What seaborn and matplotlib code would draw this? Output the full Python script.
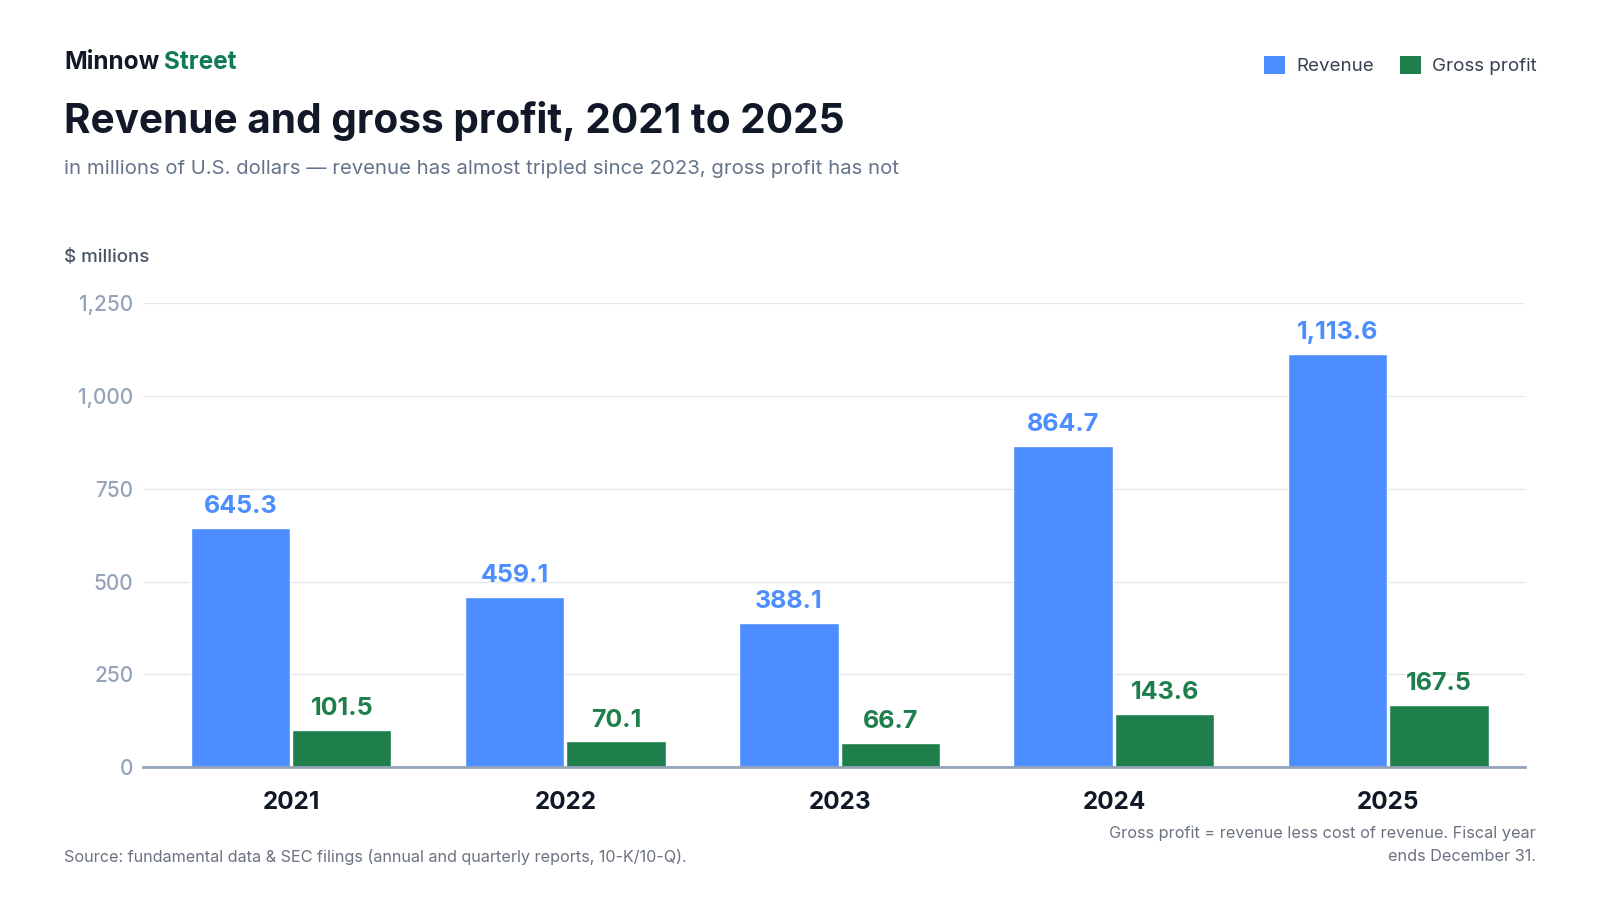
import numpy as np
import pandas as pd
import matplotlib.pyplot as plt
import seaborn as sns
from matplotlib.patches import Patch

# ================= DATA =================
YEARS = ["2021", "2022", "2023", "2024", "2025"]
REVENUE = [645.3, 459.1, 388.1, 864.7, 1113.6]
GROSS_PROFIT = [101.5, 70.1, 66.7, 143.6, 167.5]
SERIES = ["Revenue", "Gross profit"]
Y_TICKS = [0, 250, 500, 750, 1000, 1250]

BLUE = "#4c8dff"
GREEN = "#1e7f4d"
DARK = "#111827"
MUTED = "#64748b"
TICK_GRAY = "#94a3b8"

sns.set_theme(style="white")
plt.rcParams['font.family'] = ['Inter', 'DejaVu Sans']

df = pd.DataFrame({
    "year": YEARS * 2,
    "value": REVENUE + GROSS_PROFIT,
    "series": [SERIES[0]] * len(YEARS) + [SERIES[1]] * len(YEARS),
})

fig = plt.figure(figsize=(16, 9), dpi=100)
ax = fig.add_axes([0.0893, 0.1474, 0.9534 - 0.0893, 0.6633 - 0.1474])

sns.barplot(data=df, x="year", y="value", hue="series", palette=[BLUE, GREEN],
            width=0.74, gap=0.02, ax=ax, legend=False, saturation=1)

# value labels on top of the bars
for cont, col in zip(ax.containers, [BLUE, GREEN]):
    ax.bar_label(cont, labels=[f"{v:,.1f}" for v in cont.datavalues], padding=7,
                 color=col, fontsize=18, fontweight="bold")

ax.set_ylim(0, 1250)
ax.set_xlim(-0.54, 4.5)
ax.set_yticks(Y_TICKS)
ax.set_yticklabels([f"{t:,}" for t in Y_TICKS], color=TICK_GRAY, fontsize=15,
                   fontweight="medium")
ax.tick_params(axis="y", length=0, pad=7)
ax.tick_params(axis="x", length=0, pad=17)
for lbl in ax.get_xticklabels():
    lbl.set_fontsize(17.5)
    lbl.set_fontweight("bold")
    lbl.set_color(DARK)
ax.set_xlabel("")
ax.set_ylabel("")
ax.yaxis.grid(True, color="#e5e7eb", linewidth=1)
ax.set_axisbelow(True)
for s in ["top", "right", "left"]:
    ax.spines[s].set_visible(False)
ax.spines["bottom"].set_color(TICK_GRAY)
ax.spines["bottom"].set_linewidth(2)

# header
fig.text(0.040, 0.931, "Minnow", fontsize=17.5, fontweight="bold", color=DARK, va="center")
fig.text(0.1025, 0.931, "Street", fontsize=17.5, fontweight="bold", color="#0f7b5a", va="center")
fig.text(0.040, 0.866, "Revenue and gross profit, 2021 to 2025", fontsize=29.2,
         fontweight="bold", color=DARK, va="center")
fig.text(0.040, 0.812, "in millions of U.S. dollars \u2014 revenue has almost tripled since 2023, gross profit has not",
         fontsize=14.6, color=MUTED, va="center")
fig.text(0.040, 0.714, "$ millions", fontsize=13.5, color="#4b5563", va="center", fontweight="medium")

# legend
handles = [Patch(facecolor=BLUE, edgecolor="none"), Patch(facecolor=GREEN, edgecolor="none")]
fig.legend(handles, SERIES, loc="upper right", bbox_to_anchor=(0.971, 0.957), ncol=2,
           frameon=False, fontsize=13.5, handlelength=1.1, handleheight=1.1,
           handletextpad=0.6, columnspacing=1.4, labelcolor="#374151")

# footer
fig.text(0.040, 0.048, "Source: fundamental data & SEC filings (annual and quarterly reports, 10-K/10-Q).",
         fontsize=11.65, color="#6b7280", va="center")
fig.text(0.960, 0.061, "Gross profit = revenue less cost of revenue. Fiscal year\nends December 31.",
         fontsize=11.7, color="#6b7280", va="center", ha="right", linespacing=1.65)

fig.savefig("out.png", dpi=100, facecolor="white")
